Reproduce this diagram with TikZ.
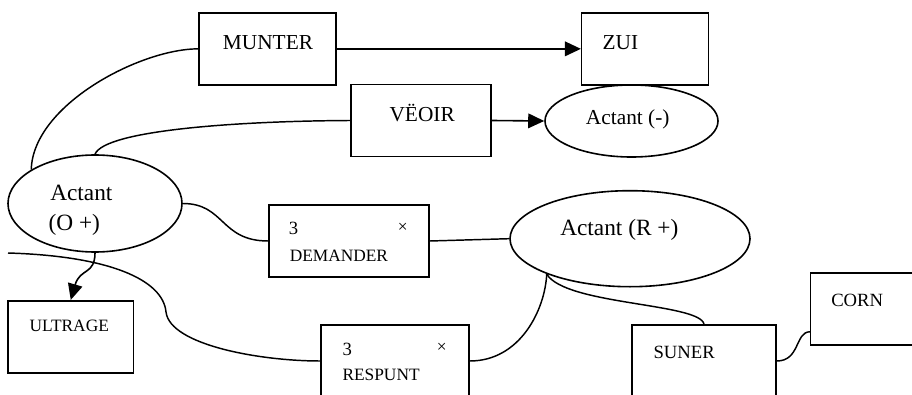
\documentclass[tikz,border=0pt]{standalone}
\usepackage{fontspec}
\setmainfont{Liberation Serif}
\usetikzlibrary{shapes, arrows.meta, positioning}
\tikzset{
  box/.style={rectangle, draw=black, line width=1.2pt, minimum height=54pt, inner sep=0pt},
  actant/.style={ellipse, draw=black, line width=1.2pt, inner sep=0pt},
  lbl/.style={anchor=base west, inner sep=0pt, font=\fontsize{16}{19}\selectfont},
  biglbl/.style={anchor=base west, inner sep=0pt, font=\fontsize{17.5}{21}\selectfont},
  smalllbl/.style={anchor=base west, inner sep=0pt, font=\fontsize{13}{15}\selectfont},
  midlbl/.style={anchor=base west, inner sep=0pt, font=\fontsize{14}{17}\selectfont},
  link/.style={line width=1.1pt},
  arrowlink/.style={line width=1.2pt, -{Triangle[length=12pt, width=11pt]}}
}

\begin{document}
\begin{tikzpicture}[x=0.75pt, y=-0.75pt]
    \path[use as bounding box, clip] (0,0) rectangle (912,395);

    % Verbs and actants
    \node[box, minimum width=102.75pt] (munter) at (267.35,48.85) {};
    \node[box, minimum width=95pt] (zui) at (645,48.85) {};
    \node[box, minimum width=105pt] (veoir) at (421,120.5) {};
    \node[actant, minimum width=129.75pt, minimum height=54pt] (actMinus) at (631.5,121) {};
    \node[actant, minimum width=130.5pt, minimum height=72.75pt] (actO) at (95,203.5) {};
    \node[box, minimum width=120pt] (demander) at (349,241) {};
    \node[actant, minimum width=180pt, minimum height=72pt] (actR) at (630,238.7) {};
    \node[box, minimum width=94pt] (ultrage) at (70.75,336.7) {};
    \node[box, minimum width=111pt] (respunt) at (395,361) {};
    \node[box, minimum width=108pt] (suner) at (704,361) {};
    \node[box, minimum width=98pt] (corn) at (876,309) {};

    % Texts
    \node[lbl] (munterTxt) at (222.7,50) {MUNTER};
    \node[lbl] (zuiTxt) at (602.3,49.3) {ZUI};
    \node[lbl] (veoirTxt) at (389.3,121.7) {VËOIR};
    \node[lbl] (actMinusTxt) at (585.7,124.5) {Actant (-)};
    \node[biglbl] (actOTxtA) at (50,200.7) {Actant};
    \node[biglbl] (actOTxtB) at (48.3,230) {(O +)};
    \node[biglbl] (actRTxt) at (560,235) {Actant (R +)};
    \node[midlbl] (demanderNum) at (288.7,234.3) {3};
    \node[smalllbl, anchor=center] (demanderX) at (402.7,228.3) {×};
    \node[smalllbl] (demanderTxt) at (289.5,261) {DEMANDER};
    \node[midlbl] (respuntNum) at (342.3,355) {3};
    \node[smalllbl, anchor=center] (respuntX) at (441.7,348.3) {×};
    \node[smalllbl] (respuntTxt) at (342.3,380) {RESPUNT};
    \node[smalllbl] (ultrageTxt) at (29.3,331.7) {ULTRAGE};
    \node[midlbl] (sunerTxt) at (653.3,358.3) {SUNER};
    \node[midlbl] (cornTxt) at (831,306.7) {CORN};

    \coordinate (rfoot) at (actR.203);
    \coordinate (leftend) at (8,253);

    % Connectors
    \draw[arrowlink] (munter.east) -- (zui.west);
    \draw[arrowlink] (veoir.east) -- (actMinus.west);
    \draw[link] (munter.west) .. controls (140,49) and (33,105) .. (actO.152);
    \draw[link] (veoir.west) .. controls (240,121) and (105,130) .. (actO.north);
    \draw[link] (actO.east) .. controls (225,203.5) and (220,241) .. (demander.west);
    \draw[link] (demander.east) -- (actR.west);
    \draw[link] (rfoot) .. controls (545,310) and (520,361) .. (respunt.east);
    \draw[link] (rfoot) .. controls (565,305) and (700,303) .. (suner.north);
    \draw[link] (suner.east) .. controls (800,361) and (795,332) .. (corn.199);
    \draw[link] (leftend) .. controls (110,256) and (163,280) .. (166,312)
        .. controls (170,345) and (260,361) .. (respunt.west);
    \draw[arrowlink] (actO.south) .. controls (95,275) and (80,268) .. (ultrage.north);
\end{tikzpicture}
\end{document}
